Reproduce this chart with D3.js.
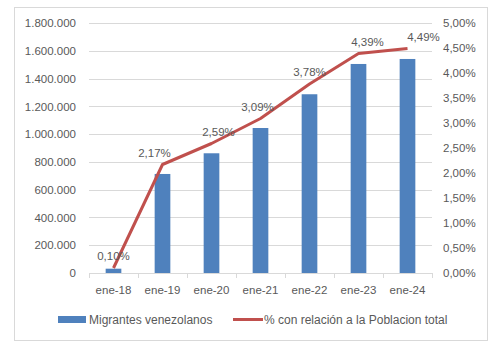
<!DOCTYPE html>
<html>
<head>
<meta charset="utf-8">
<script src="https://cdn.jsdelivr.net/npm/d3@7"></script>
<style>
  body { margin: 0; background: #fff; }
  text { font-family: "Liberation Sans", Arial, sans-serif; fill: #595959; }
</style>
</head>
<body>
<svg id="chart"></svg>
<script>
// datos
const periodos = ["ene-18", "ene-19", "ene-20", "ene-21", "ene-22", "ene-23", "ene-24"];
const migrantes = [31000, 713000, 862000, 1044000, 1287000, 1505000, 1541000];
const porcentaje = [0.10, 2.17, 2.59, 3.09, 3.78, 4.39, 4.49];
const ticksIzq = [0, 200000, 400000, 600000, 800000, 1000000, 1200000, 1400000, 1600000, 1800000];
const ticksDer = [0, 0.5, 1, 1.5, 2, 2.5, 3, 3.5, 4, 4.5, 5];

// desplazamiento horizontal de las etiquetas (como en el original)
const etiquetaDx = [0, -8, 7, -3, 0, 9, 16];

const width = 500, height = 345;
const margin = {top: 23, right: 68, bottom: 72, left: 89};
const innerW = width - margin.left - margin.right;   // 343
const innerH = height - margin.top - margin.bottom;  // 250

const svg = d3.select("#chart").attr("width", width).attr("height", height);

// marco exterior
svg.append("rect")
  .attr("x", 14.5).attr("y", 7.5)
  .attr("width", 473).attr("height", 333)
  .attr("fill", "none").attr("stroke", "#d9d9d9");

const chart = svg.append("g")
  .attr("transform", `translate(${margin.left}, ${margin.top})`);

const xscale = d3.scaleBand().domain(periodos).range([0, innerW]).paddingInner(0.68).paddingOuter(0.34);
const yscale = d3.scaleLinear().domain([0, 1800000]).range([innerH, 0]);
const yscale2 = d3.scaleLinear().domain([0, 5]).range([innerH, 0]);
const xcenter = d => xscale(d) + xscale.bandwidth() / 2;

const fmtMiles = d => d3.format(",")(d).replace(/,/g, ".");
const fmtPct = d => d.toFixed(2).replace(".", ",") + "%";

// líneas de cuadrícula
chart.append("g")
  .selectAll("line")
  .data(ticksIzq.slice(1))
  .join("line")
  .attr("x1", 0).attr("x2", innerW)
  .attr("y1", d => Math.round(yscale(d)) + 0.5)
  .attr("y2", d => Math.round(yscale(d)) + 0.5)
  .attr("stroke", "#d9d9d9").attr("stroke-width", 1);

// eje izquierdo
const yaxis = d3.axisLeft(yscale).tickValues(ticksIzq).tickFormat(fmtMiles).tickSize(0).tickPadding(13);
chart.append("g").call(yaxis)
  .call(g => g.select(".domain").remove())
  .selectAll("text").style("font-size", "11.5px").attr("fill", "#595959");

// eje derecho
const yaxis2 = d3.axisRight(yscale2).tickValues(ticksDer).tickFormat(fmtPct).tickSize(0).tickPadding(11);
chart.append("g").attr("transform", `translate(${innerW}, 0)`).call(yaxis2)
  .call(g => g.select(".domain").remove())
  .selectAll("text").style("font-size", "11.5px").attr("fill", "#595959");

// barras
chart.append("g")
  .selectAll("rect")
  .data(periodos)
  .join("rect")
  .attr("x", d => xscale(d))
  .attr("y", (d, i) => yscale(migrantes[i]))
  .attr("width", xscale.bandwidth())
  .attr("height", (d, i) => innerH - yscale(migrantes[i]))
  .attr("fill", "#4f81bd");

// eje x
const bordes = periodos.map(d => xscale(d) - xscale.step() * xscale.paddingInner() / 2).concat([innerW]);
const xg = chart.append("g").attr("transform", `translate(0, ${innerH})`);
xg.append("line").attr("x1", 0).attr("x2", innerW).attr("y1", 0.5).attr("y2", 0.5).attr("stroke", "#d9d9d9");
xg.selectAll(".tick-x")
  .data(bordes)
  .join("line")
  .attr("x1", d => Math.round(d) + 0.5).attr("x2", d => Math.round(d) + 0.5)
  .attr("y1", 0).attr("y2", 5)
  .attr("stroke", "#d9d9d9");
xg.selectAll("text")
  .data(periodos)
  .join("text")
  .attr("x", d => xcenter(d))
  .attr("y", 21)
  .attr("text-anchor", "middle")
  .style("font-size", "11.5px")
  .text(d => d);

// línea de porcentaje
const line = d3.line()
  .x(d => xcenter(d.p))
  .y(d => yscale2(d.v));
const puntos = periodos.map((p, i) => ({p: p, v: porcentaje[i]}));
chart.append("path")
  .datum(puntos)
  .attr("d", line)
  .attr("fill", "none")
  .attr("stroke", "#c0504d")
  .attr("stroke-width", 3)
  .attr("stroke-linejoin", "round");

// etiquetas de datos
chart.append("g")
  .selectAll("text")
  .data(puntos)
  .join("text")
  .attr("x", (d, i) => xcenter(d.p) + etiquetaDx[i])
  .attr("y", d => yscale2(d.v) - 8)
  .attr("text-anchor", "middle")
  .style("font-size", "11.5px")
  .attr("fill", "#404040")
  .text(d => fmtPct(d.v));

// leyenda
const leg = svg.append("g");
leg.append("rect").attr("x", 58).attr("y", 316).attr("width", 28).attr("height", 7).attr("fill", "#4f81bd");
leg.append("text").attr("x", 89).attr("y", 323.5).style("font-size", "12px").text("Migrantes venezolanos");
leg.append("line").attr("x1", 233).attr("x2", 263).attr("y1", 319.5).attr("y2", 319.5)
  .attr("stroke", "#c0504d").attr("stroke-width", 3);
leg.append("text").attr("x", 264).attr("y", 323.5).style("font-size", "12px").text("% con relación a la Poblacion total");
</script>
</body>
</html>
